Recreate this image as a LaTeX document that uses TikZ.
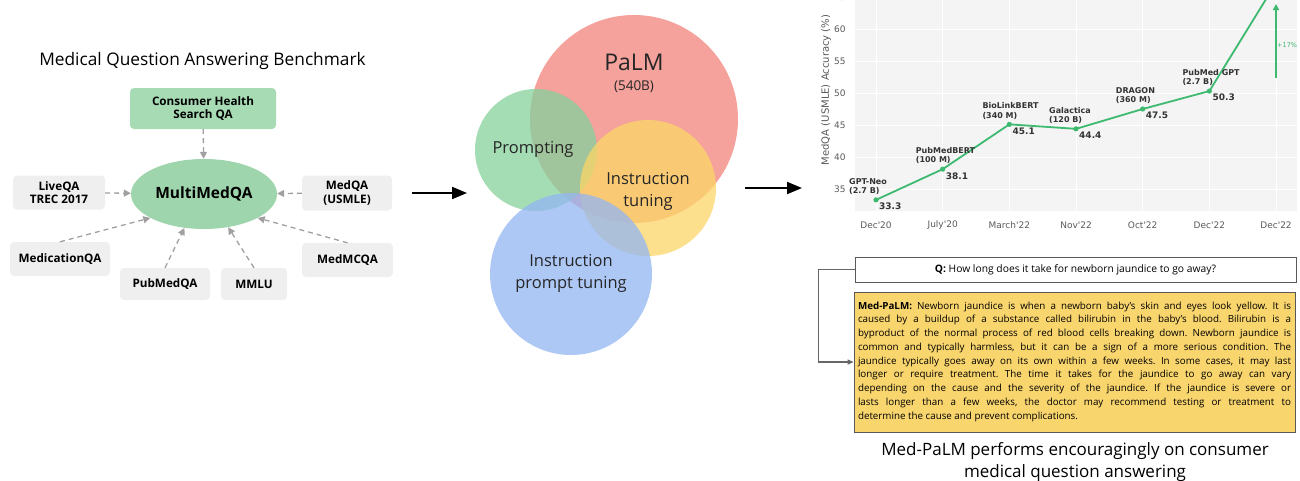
\documentclass[tikz,border=0pt]{standalone}
\usepackage{fontspec}
\setmainfont{Open Sans}
\newfontfamily\plotfont{DejaVu Sans}
\usepackage{tikz}
\usetikzlibrary{positioning, arrows.meta, shapes.geometric}
\frenchspacing

\definecolor{hqgreen}{HTML}{A6DBB4}
\definecolor{ellgreen}{HTML}{9ED5AC}
\definecolor{boxgray}{HTML}{EFEFEF}
\definecolor{dashgray}{HTML}{A0A0A0}
\definecolor{palmred}{HTML}{F0837A}
\definecolor{promptgreen}{HTML}{85D09B}
\definecolor{tuneyellow}{HTML}{FCD668}
\definecolor{ipblue}{HTML}{93B6F3}
\definecolor{plotbg}{HTML}{F4F4F4}
\definecolor{plotgreen}{HTML}{3DB970}
\definecolor{plottext}{HTML}{333333}
\definecolor{ansyellow}{HTML}{F9D56E}

\begin{document}
\begin{tikzpicture}[x=1pt, y=-1pt,
  bench/.style={rounded corners=4pt, fill=boxgray, align=center, inner sep=0pt,
    font=\fontsize{11.7}{13.5}\selectfont\bfseries},
  feed/.style={dashgray, line width=1.3pt, dash pattern=on 5pt off 4pt,
    -{Triangle[length=7pt, width=7pt]}},
  bigarrow/.style={line width=2pt, -{Triangle[length=15pt, width=12pt]}},
  venn/.style={fill opacity=.75},
  vtext/.style={text=black!85, align=center, font=\fontsize{16.5}{22}\selectfont},
  grid/.style={white, line width=1pt},
  tick/.style={text=black!65, font=\plotfont\fontsize{9}{11}\selectfont},
  mdl/.style={text=plottext, align=left, inner sep=0pt, font=\plotfont\fontsize{8}{9.5}\selectfont\bfseries},
  val/.style={text=plottext, inner sep=0pt, font=\plotfont\fontsize{9}{11}\selectfont\bfseries}]
\useasboundingbox (0,0) rectangle (1300,480);

% benchmark sources feeding MultiMedQA
\node (title) at (202.5,61) {\fontsize{17.3}{20}\selectfont Medical Question Answering Benchmark};
\node[bench, fill=hqgreen, minimum width=146pt, minimum height=41pt] (chqa) at (203,108.5) {Consumer Health\\Search QA};
\node[ellipse, fill=ellgreen, minimum width=146pt, minimum height=70pt, inner sep=0pt,
  font=\fontsize{15.5}{17}\selectfont\bfseries] (mmqa) at (204,194) {MultiMedQA};
\node[bench, minimum width=92pt, minimum height=34pt] (liveqa) at (59,192.5) {LiveQA\\TREC 2017};
\node[bench, minimum width=90pt, minimum height=35pt] (medqa) at (347,193) {MedQA\\(USMLE)};
\node[bench, minimum width=100pt, minimum height=34pt] (medication) at (60,259) {MedicationQA};
\node[bench, minimum width=90pt, minimum height=32pt] (pubmedqa) at (165,284) {PubMedQA};
\node[bench, minimum width=66pt, minimum height=32pt] (mmlu) at (254,284) {MMLU};
\node[bench, minimum width=91pt, minimum height=34pt] (medmcqa) at (347.5,260) {MedMCQA};

\draw[feed] (chqa) -- (mmqa);
\draw[feed] (liveqa) -- (mmqa);
\draw[feed] (medqa) -- (mmqa);
\draw[feed] (medication.north) -- (mmqa.204);
\draw[feed] (pubmedqa.north) -- (mmqa.240);
\draw[feed] (mmlu.north) -- (mmqa.306);
\draw[feed] (medmcqa.north) -- (mmqa.336);

% PaLM and its adaptations
\fill[venn, palmred] (634,119) circle (104pt);
\fill[venn, promptgreen] (536,150) circle (61pt);
\fill[venn, tuneyellow] (648,188) circle (68pt);
\fill[venn, ipblue] (571,274) circle (81pt);
\node[vtext, font=\fontsize{23}{26}\selectfont] (palm) at (634,62) {PaLM};
\node[vtext, font=\fontsize{13.5}{16}\selectfont] (size) at (634,87) {(540B)};
\node[vtext] (prompt) at (533,149) {Prompting};
\node[vtext] (itune) at (648,191) {Instruction\\tuning};
\node[vtext] (iptune) at (571,273) {Instruction\\prompt tuning};

\coordinate (a1) at (412,193);
\coordinate (a2) at (467,193);
\coordinate (b1) at (745,188);
\coordinate (b2) at (802,188);
\draw[bigarrow] (a1) -- (a2);
\draw[bigarrow] (b1) -- (b2);

% MedQA accuracy over time
\fill[plotbg] (855,0) rectangle (1297,211);
\foreach \t in {35,40,...,65} {
  \draw[grid] (855,{413-6.4*\t}) -- (1297,{413-6.4*\t});
  \node[tick, anchor=east] at (849,{413-6.4*\t}) {\t};
}
\foreach \x/\m in {0/Dec'20, 1/July'20, 2/March'22, 3/Nov'22, 4/Oct'22, 5/Dec'22, 6/Dec'22} {
  \draw[grid] ({876+66.67*\x},0) -- ({876+66.67*\x},211);
  \node[tick] at ({876+66.67*\x},225) {\m};
}
\node[tick, rotate=90, font=\plotfont\fontsize{10}{12}\selectfont] (ylab) at (826,90) {MedQA (USMLE) Accuracy (\%)};

\foreach \i/\v in {1/33.3, 2/38.1, 3/45.1, 4/44.4, 5/47.5, 6/50.3, 7/67.2}
  \coordinate (p\i) at ({876+66.67*(\i-1)},{413-6.4*\v});
\begin{scope}
\clip (855,0) rectangle (1297,211);
\draw[plotgreen, line width=1.8pt] (p1) -- (p2) -- (p3) -- (p4) -- (p5) -- (p6) -- (p7);
\end{scope}
\foreach \i/\v/\name in {1/33.3/{GPT-Neo\\(2.7 B)}, 2/38.1/{PubMedBERT\\(100 M)},
    3/45.1/{BioLinkBERT\\(340 M)}, 4/44.4/{Galactica\\(120 B)},
    5/47.5/{DRAGON\\(360 M)}, 6/50.3/{PubMed GPT\\(2.7 B)}} {
  \fill[plotgreen] (p\i) circle (2.6pt);
  \node[mdl, anchor=south west] at ([xshift=-27pt, yshift=5pt]p\i) {\name};
  \node[val, anchor=north west] at ([xshift=3pt, yshift=-3pt]p\i) {\v};
}
\coordinate (g1) at (1276,78);
\coordinate (g2) at (1276,4);
\draw[plotgreen, line width=1.5pt, -{Triangle[length=6pt, width=6pt]}] (g1) -- (g2);
\node[anchor=west, inner sep=0pt, text=plotgreen, font=\plotfont\fontsize{6.5}{8}\selectfont] (gain) at (1277,45) {+17\%};

% consumer question and answer
\node[draw=black!65, line width=.8pt, fill=white, minimum width=441pt, minimum height=25pt,
  font=\fontsize{10.3}{12}\selectfont] (q) at (1075.5,269.5)
  {\textbf{Q:} How long does it take for newborn jaundice to go away?};
\node[draw=black!65, line width=.8pt, fill=ansyellow, text width=433pt, inner xsep=4pt,
  minimum height=140pt, align=justify, font=\fontsize{9.8}{13.75}\selectfont] (ans) at (1074.5,362)
  {\textbf{Med-PaLM:} Newborn jaundice is when a newborn baby's skin and eyes look yellow. It is\linebreak
  caused by a buildup of a substance called bilirubin in the baby's blood. Bilirubin is a\linebreak
  byproduct of the normal process of red blood cells breaking down. Newborn jaundice is\linebreak
  common and typically harmless, but it can be a sign of a more serious condition. The\linebreak
  jaundice typically goes away on its own within a few weeks. In some cases, it may last\linebreak
  longer or require treatment. The time it takes for the jaundice to go away can vary\linebreak
  depending on the cause and the severity of the jaundice. If the jaundice is severe or\linebreak
  lasts longer than a few weeks, the doctor may recommend testing or treatment to\linebreak
  determine the cause and prevent complications.\rule[-3pt]{0pt}{0pt}};
\draw[black!60, line width=1.2pt, -{Triangle[length=6pt, width=5pt]}] (q.west) -- ++(-36,0) |- (ans.west);

\node[align=center, font=\fontsize{17}{22}\selectfont] (caption) at (1075,462)
  {Med-PaLM performs encouragingly on consumer\\medical question answering};
\end{tikzpicture}
\end{document}
